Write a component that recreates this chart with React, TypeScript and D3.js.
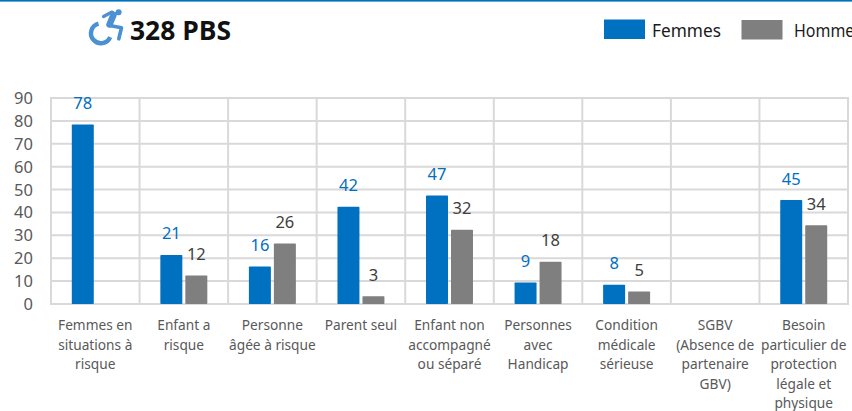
import React from "react";
import * as d3 from "d3";

const categories = [
  ["Femmes en", "situations à", "risque"],
  ["Enfant a", "risque"],
  ["Personne", "âgée à risque"],
  ["Parent seul"],
  ["Enfant non", "accompagné", "ou séparé"],
  ["Personnes", "avec", "Handicap"],
  ["Condition", "médicale", "sérieuse"],
  ["SGBV", "(Absence de", "partenaire", "GBV)"],
  ["Besoin", "particulier de", "protection", "légale et", "physique"],
];
const femmes: (number | null)[] = [78, 21, 16, 42, 47, 9, 8, null, 45];
const hommes: (number | null)[] = [null, 12, 26, 3, 32, 18, 5, null, 34];
const yTicks = [0, 10, 20, 30, 40, 50, 60, 70, 80, 90];
const seriesNames = ["Femmes", "Hommes"];
const seriesColors = ["#0070C0", "#7F7F7F"];
const labelColors = ["#0070C0", "#404040"];
const FONT = "'Noto Sans', 'Open Sans', sans-serif";

export default function App() {
  const x = d3.scaleBand<number>().domain(d3.range(categories.length)).range([51, 848]);
  const y = d3.scaleLinear().domain([0, 90]).range([304, 98]);
  const inner = d3.scaleBand<number>().domain([0, 1]).range([0, x.step()]).paddingInner(0.12).paddingOuter(0.832);
  const grid = "#D9D9D9";
  return (
    <svg width={852} height={411} style={{ position: "fixed", left: 0, top: 0, background: "#fff" }} fontFamily={FONT}>
      <rect x={0} y={0} width={852} height={1.6} fill="#0072BC" />
      {/* icon */}
      <g fill="none" stroke="#4A90D2" strokeLinejoin="round" strokeLinecap="round">
        <circle cx={118.6} cy={12.3} r={3} fill="#4A90D2" stroke="none" />
        <path d="M103.5 16.5 L112 12 L115 14" strokeWidth={3.2} />
        <path d="M113.5 15 L109.5 24.5" strokeWidth={6.5} />
        <path d="M109.5 25.5 L121.5 27.8 L118.8 38.8" strokeWidth={3.6} />
        <path d="M98.5 23.6 A10 10 0 1 0 110.2 37.2" strokeWidth={4.4} strokeLinecap="butt" />
      </g>
      <text x={130} y={39.5} fontSize={26} fontWeight={700} fill="#111" fontFamily="'Open Sans', sans-serif" textLength={101} lengthAdjust="spacingAndGlyphs">328 PBS</text>

      {/* legend */}
      {seriesNames.map((n, i) => {
        const lx = [604, 741.5][i];
        return (
          <g key={n}>
            <rect x={lx} y={i === 0 ? 19.5 : 20} width={41} height={19.5} fill={seriesColors[i]} />
            <text x={[652, 794][i]} y={36.5} fontSize={17.5} fill="#1a1a1a" textLength={[69, 68][i]} lengthAdjust="spacingAndGlyphs">{n}</text>
          </g>
        );
      })}

      {/* grid */}
      {yTicks.map((t) => (
        <line key={t} x1={x(0)!} x2={848} y1={y(t)} y2={y(t)} stroke={grid} strokeWidth={2} />
      ))}
      {d3.range(categories.length + 1).map((i) => {
        const px = 51 + i * x.step();
        return <line key={i} x1={px} x2={px} y1={97} y2={305} stroke={grid} strokeWidth={2} />;
      })}
      {yTicks.map((t) => (
        <text key={t} x={33} y={y(t) + 6} textAnchor="end" fontSize={16.5} fill="#595959">{t}</text>
      ))}

      {/* bars */}
      {[femmes, hommes].map((vals, s) =>
        vals.map((v, i) =>
          v == null ? null : (
            <g key={`${s}-${i}`}>
              <rect x={x(i)! + inner(s)!} y={y(v) - 1} width={inner.bandwidth()} height={y(0) - y(v) + 1} fill={seriesColors[s]} rx={0.8} />
              <text x={x(i)! + inner(s)! + inner.bandwidth() / 2} y={y(v) - 16.5} textAnchor="middle" fontSize={16.5} fill={labelColors[s]}>{v}</text>
            </g>
          )
        )
      )}

      {/* category labels */}
      {categories.map((lines, i) => (
        <text key={i} textAnchor="middle" fontSize={13.7} fill="#595959">
          {lines.map((l, j) => (
            <tspan key={j} x={x(i)! + x.step() / 2} y={330 + j * 19.6}>{l}</tspan>
          ))}
        </text>
      ))}
    </svg>
  );
}
